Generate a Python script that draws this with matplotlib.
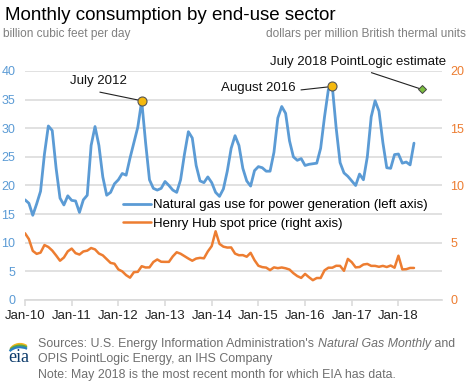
#!/usr/bin/env python3
import matplotlib
matplotlib.use("Agg")
import matplotlib.pyplot as plt
from matplotlib.patches import Arc

plt.rcParams["font.family"] = ["Liberation Sans", "DejaVu Sans"]

BLUE = "#5b9bd5"
ORANGE = "#ed7d31"
GRID = "#d9d9d9"
GRAY = "#808080"

# monthly, Jan 2010 .. May 2018 (index 0 = Jan-10)
power_burn = [
    17.5, 16.9, 14.8, 16.8, 19.0, 25.5, 30.4, 29.6, 23.0, 17.8, 16.6, 18.2,  # 2010
    17.4, 17.3, 15.3, 17.5, 18.3, 27.0, 30.3, 27.0, 21.5, 18.3, 18.8, 20.3,  # 2011
    21.0, 22.1, 21.8, 24.8, 27.5, 30.2, 34.8, 27.5, 21.0, 19.5, 19.2, 19.5,  # 2012
    20.7, 20.0, 19.2, 18.8, 21.0, 25.5, 29.4, 28.3, 23.5, 20.8, 20.5, 21.5,  # 2013
    20.5, 18.8, 18.1, 19.4, 22.5, 26.5, 28.7, 27.0, 23.0, 20.8, 19.9, 22.6,  # 2014
    23.3, 23.1, 22.5, 22.5, 25.8, 31.8, 33.8, 32.6, 27.8, 25.0, 24.4, 24.7,  # 2015
    23.5, 23.7, 23.8, 23.9, 26.5, 32.0, 36.8, 37.3, 30.0, 24.0, 22.2, 21.6,  # 2016
    20.8, 20.0, 22.0, 21.0, 25.0, 32.0, 34.8, 33.0, 27.5, 23.1, 23.0, 25.4,  # 2017
    25.5, 23.9, 24.1, 23.6, 27.4,                                            # 2018
]

henry_hub = [
    5.83, 5.32, 4.29, 4.03, 4.14, 4.80, 4.63, 4.32, 3.89, 3.43, 3.71, 4.25,
    4.49, 4.09, 3.97, 4.24, 4.31, 4.54, 4.42, 4.06, 3.90, 3.57, 3.24, 3.17,
    2.67, 2.50, 2.17, 1.95, 2.43, 2.46, 2.95, 2.84, 2.85, 3.32, 3.54, 3.34,
    3.33, 3.33, 3.81, 4.17, 4.04, 3.83, 3.62, 3.43, 3.62, 3.68, 3.64, 4.24,
    4.71, 6.00, 4.90, 4.66, 4.58, 4.59, 4.05, 3.91, 3.92, 3.78, 4.12, 3.48,
    2.99, 2.87, 2.83, 2.61, 2.85, 2.78, 2.84, 2.77, 2.66, 2.34, 2.09, 1.93,
    2.28, 1.99, 1.73, 1.92, 1.92, 2.59, 2.82, 2.82, 2.99, 2.98, 2.55, 3.59,
    3.30, 2.85, 2.88, 3.10, 3.15, 2.98, 2.98, 2.90, 2.98, 2.88, 3.01, 2.82,
    3.87, 2.67, 2.69, 2.80, 2.80,
]

tick_labels = ["Jan-10", "Jan-11", "Jan-12", "Jan-13", "Jan-14",
               "Jan-15", "Jan-16", "Jan-17", "Jan-18"]

highlights = {"July 2012": 30, "August 2016": 79}
estimate_month = 102          # July 2018
estimate_value = 36.8

months = list(range(len(power_burn)))

fig = plt.figure(figsize=(4.68, 3.89), dpi=100)
ax = fig.add_axes([25 / 468, 1 - 300 / 389, 417 / 468, 229 / 389])
ax2 = ax.twinx()

ax.set_xlim(0, 107.2)
ax.set_ylim(0, 40)
ax2.set_ylim(0, 20)

ax.set_yticks(range(0, 41, 5))
ax2.set_yticks(range(0, 21, 5))
ax.set_xticks([12 * i for i in range(len(tick_labels))])
ax.set_xticklabels(tick_labels)

for a in (ax, ax2):
    for s in a.spines.values():
        s.set_visible(False)
ax.spines["bottom"].set_visible(True)
ax.spines["bottom"].set_color(GRID)
ax.spines["bottom"].set_linewidth(1.2)

ax.grid(axis="y", color=GRID, linewidth=1.1)
ax.set_axisbelow(True)
ax.tick_params(axis="y", length=0, labelsize=9, labelcolor=BLUE, pad=7)
ax2.tick_params(axis="y", length=0, labelsize=9, labelcolor=ORANGE, pad=6)
ax.tick_params(axis="x", length=4, color=GRID, width=1.1, labelsize=9.5,
               labelcolor="#222222", pad=3)

l1, = ax.plot(months, power_burn, color=BLUE, linewidth=2.0,
              label="Natural gas use for power generation (left axis)",
              solid_capstyle="round", solid_joinstyle="round")
l2, = ax2.plot(months[:len(henry_hub)], henry_hub, color=ORANGE, linewidth=1.8,
               label="Henry Hub spot price (right axis)",
               solid_capstyle="round", solid_joinstyle="round")

# highlighted points and labels
m12 = highlights["July 2012"]
m16 = highlights["August 2016"]
ax.plot([19.3, m12], [36.3, power_burn[m12]], color="#222222", lw=0.8, zorder=4)
ax.plot([71.0, m16], [36.7, power_burn[m16]], color="#222222", lw=0.8, zorder=4)
ax.plot([89.1, estimate_month], [39.7, estimate_value], color="#222222", lw=0.8,
        zorder=4, clip_on=False)
for m in (m12, m16):
    ax.plot(m, power_burn[m], "o", ms=6.5, mfc="#f5b90f", mec="#555555",
            mew=0.8, zorder=6, clip_on=False)
ax.plot(estimate_month, estimate_value, "D", ms=4, mfc="#7cbf3f", mec="#444444",
        mew=0.7, zorder=6, clip_on=False)

ax.text(18.9, 38.3, "July 2012", ha="center", va="center", fontsize=9.5,
        color="#111111", zorder=7)
ax.text(69.6, 37.0, "August 2016", ha="right", va="center", fontsize=9.5,
        color="#111111", zorder=7)
ax.text(85.6, 41.6, "July 2018 PointLogic estimate", ha="center", va="center",
        fontsize=9.5, color="#111111", zorder=7, clip_on=False)

leg = ax2.legend(handles=[l1, l2], loc="upper left", bbox_to_anchor=(0.235, 0.44),
                 frameon=False, fontsize=9.5, handlelength=2.1, handletextpad=0.15,
                 labelspacing=0.45, borderpad=0, borderaxespad=0)

# titles
fig.text(5 / 468, 1 - 16 / 389, "Monthly consumption by end-use sector",
         fontsize=13.5, color="#000000", va="center", ha="left")
fig.text(3 / 468, 1 - 34 / 389, "billion cubic feet per day", fontsize=8.6,
         color=GRAY, va="center", ha="left")
fig.text(466 / 468, 1 - 34 / 389, "dollars per million British thermal units",
         fontsize=8.6, color=GRAY, va="center", ha="right")

# footer
FOOT = "#6f6f6f"
fs = 8.9
t1 = fig.text(38 / 468, 1 - 344 / 389, "Sources: U.S. Energy Information Administration's ",
              fontsize=fs, color=FOOT, va="center", ha="left")
fig.canvas.draw()
r = fig.canvas.get_renderer()
bb = t1.get_window_extent(r)
t2 = fig.text(bb.x1 / 468, 1 - 344 / 389, "Natural Gas Monthly", fontsize=fs,
              color=FOOT, va="center", ha="left", style="italic")
bb2 = t2.get_window_extent(r)
fig.text(bb2.x1 / 468, 1 - 344 / 389, " and", fontsize=fs, color=FOOT,
         va="center", ha="left")
fig.text(38 / 468, 1 - 359 / 389, "OPIS PointLogic Energy, an IHS Company",
         fontsize=fs, color=FOOT, va="center", ha="left")
fig.text(38 / 468, 1 - 375 / 389,
         "Note: May 2018 is the most recent month for which EIA has data.",
         fontsize=fs, color=FOOT, va="center", ha="left")

# eia logo
logo = fig.add_axes([3 / 468, 1 - 366 / 389, 32 / 468, 30 / 389])
logo.set_xlim(0, 32)
logo.set_ylim(0, 30)
logo.axis("off")
logo.text(16, 9, "eia", fontsize=13, family="Liberation Serif", color="#0b3a6b",
          ha="center", va="center")
for w, c, dy in ((22, "#f2b61b", 0), (24, "#5aa845", -1.6), (26, "#2a7fc1", -3.2)):
    logo.add_patch(Arc((17, 12 + dy), w, 20, theta1=50, theta2=150, color=c, lw=1.6))

fig.savefig("out.png", dpi=100)
